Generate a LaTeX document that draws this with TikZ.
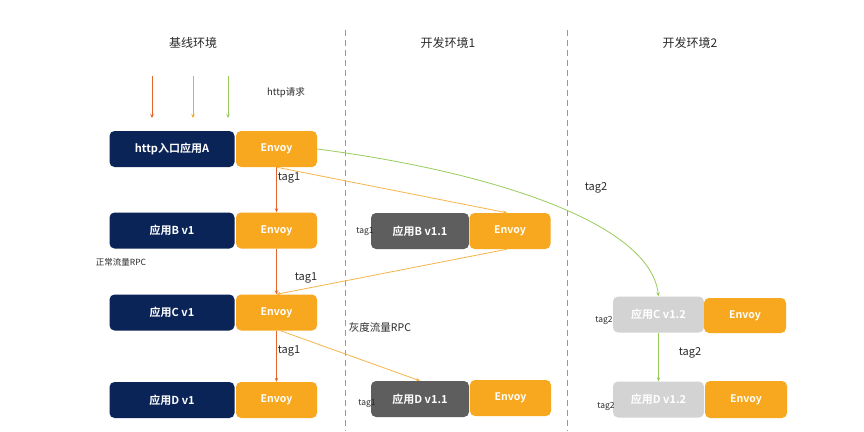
\documentclass[tikz,border=0pt]{standalone}
\usepackage{fontspec}
\setmainfont{Noto Sans CJK SC}[BoldFont={Noto Sans CJK SC Bold}]
\usetikzlibrary{arrows.meta}
\definecolor{navy}{HTML}{0B2458}
\definecolor{envoyor}{HTML}{F8A81E}
\definecolor{darkg}{HTML}{5E5E5E}
\definecolor{lightg}{HTML}{D3D3D3}
\definecolor{redor}{HTML}{E4652C}
\definecolor{lightor}{HTML}{F5B54A}
\definecolor{greenl}{HTML}{98CC5E}
\definecolor{txt}{HTML}{2A2A2A}
\tikzset{
  box/.style={rounded corners=5pt, inner sep=0pt, minimum height=36pt, text=white, font=\fontsize{11}{12}\selectfont\bfseries},
  appbox/.style={box, fill=navy, minimum width=125pt},
  envbox/.style={box, fill=envoyor, minimum width=81pt, font=\fontsize{10.5}{12}\selectfont\bfseries},
  devbox/.style={box, fill=darkg, minimum width=98pt},
  dev2box/.style={box, fill=lightg, minimum width=91pt},
  hdr/.style={text=txt, font=\fontsize{12}{14}\selectfont},
  lbl/.style={text=txt, font=\fontsize{11}{12}\selectfont},
  slbl/.style={text=txt, font=\fontsize{8.5}{10}\selectfont},
  redarr/.style={draw=redor, line width=0.9pt, -{Stealth[length=4pt,width=3.5pt]}},
  orarr/.style={draw=lightor, line width=0.8pt, -{Stealth[length=4pt,width=3.5pt]}},
  grarr/.style={draw=greenl, line width=0.8pt, -{Stealth[length=4pt,width=3.5pt]}},
  sep/.style={draw=gray!80, line width=0.9pt, dash pattern=on 6pt off 4pt},
}
\begin{document}
\begin{tikzpicture}[x=1pt,y=-1pt]
\useasboundingbox[fill=white] (0,0) rectangle (864,431);
% separators
\coordinate (s1t) at (345,30); \coordinate (s1b) at (345,431);
\coordinate (s2t) at (567,30); \coordinate (s2b) at (567,431);
\draw[sep] (s1t) -- (s1b);
\draw[sep] (s2t) -- (s2b);
% headers
\node[hdr] (h1) at (193,43) {基线环境};
\node[hdr] (h2) at (448,43) {开发环境1};
\node[hdr] (h3) at (690,43) {开发环境2};
% http request arrows
\coordinate (r1) at (152,76); \coordinate (r1e) at (152,118);
\coordinate (r2) at (193,76); \coordinate (r2e) at (193,118);
\coordinate (r3) at (228,76); \coordinate (r3e) at (228,118);
\draw[redarr] (r1) -- (r1e);
\draw[orarr, draw=envoyor] (r2) -- (r2e);
\draw[grarr] (r3) -- (r3e);
\node[lbl, font=\fontsize{9.5}{11}\selectfont] (http) at (286,93) {http请求};
% baseline column
\node[appbox] (a) at (172,149) {http入口应用A};
\node[envbox] (ea) at (276.5,149) {Envoy};
\node[appbox] (b) at (172,230.5) {应用B v1};
\node[envbox] (eb) at (276.5,230.5) {Envoy};
\node[appbox] (c) at (172,312.5) {应用C v1};
\node[envbox] (ec) at (276.5,312.5) {Envoy};
\node[appbox] (d) at (172,400) {应用D v1};
\node[envbox] (ed) at (276.5,400) {Envoy};
% dev 1
\node[devbox] (b11) at (420,231) {应用B v1.1};
\node[envbox] (eb11) at (510,231) {Envoy};
\node[devbox] (d11) at (420,399) {应用D v1.1};
\node[envbox] (ed11) at (510.5,398) {Envoy};
% dev 2
\node[dev2box] (c12) at (658.5,314.5) {应用C v1.2};
\node[envbox, minimum width=82pt, minimum height=35pt] (ec12) at (745,315.5) {Envoy};
\node[dev2box] (d12) at (658.5,399.5) {应用D v1.2};
\node[envbox, minimum width=82pt, minimum height=37pt] (ed12) at (746,399.5) {Envoy};
% baseline tag1 chain
\draw[redarr] (ea.south) -- (eb.north);
\draw[redarr] (eb.south) -- (ec.north);
\draw[redarr] (ec.south) -- (ed.north);
\node[lbl] (t1) at (289,178) {tag1};
\node[lbl] (t2) at (306,278) {tag1};
\node[lbl] (t3) at (289,351) {tag1};
% gray traffic
\draw[orarr] (ea.south) -- ([xshift=-3pt]eb11.north);
\draw[orarr] ([xshift=-3pt]eb11.south) -- (ec.north);
\draw[orarr] ([xshift=4pt]ec.south) -- (d11.north);
\node[slbl] (tb11) at (365,232) {tag1};
\node[slbl] (td11) at (367,404) {tag1};
\node[slbl, font=\fontsize{8.5}{10}\selectfont] (normal) at (121,262) {正常流量RPC};
\node[lbl, font=\fontsize{10.5}{12}\selectfont] (gray) at (380,327) {灰度流量RPC};
% tag2
\draw[grarr] (ea.east) .. controls (480,170) and (650,220) .. (c12.north);
\draw[grarr] (c12.south) -- (d12.north);
\node[lbl] (tg) at (596,188) {tag2};
\node[lbl] (tg2) at (690,353) {tag2};
\node[slbl] (tc12) at (604,320) {tag2};
\node[slbl] (td12) at (606,406) {tag2};
\end{tikzpicture}
\end{document}
